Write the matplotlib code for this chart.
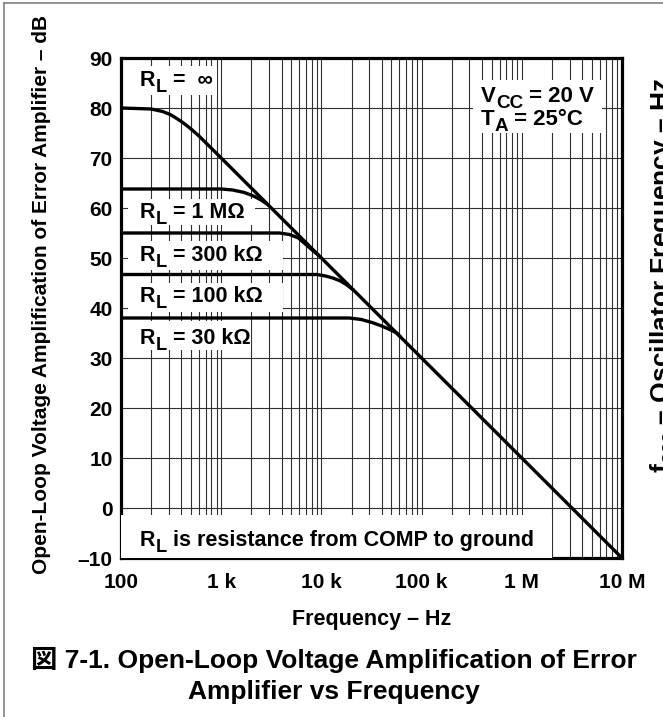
import numpy as np
import matplotlib
matplotlib.use('Agg')
import matplotlib.pyplot as plt
from matplotlib.patches import Rectangle
from matplotlib.lines import Line2D

plt.rcParams['font.family'] = ['Liberation Sans', 'Noto Sans CJK JP', 'DejaVu Sans']
plt.rcParams['font.weight'] = 'bold'
plt.rcParams['mathtext.fontset'] = 'custom'
plt.rcParams['mathtext.rm'] = 'Liberation Sans:bold'
plt.rcParams['mathtext.it'] = 'Liberation Sans:bold'
plt.rcParams['mathtext.default'] = 'rm'

# open-loop gain curves (Hz, dB)
freq_inf = [100, 200, 260, 310, 360, 420, 500, 600, 1e3, 1e4, 1e5, 1e6, 1e7]
gain_inf = [80.0, 79.8, 79.3, 78.7, 77.9, 77.0, 75.8, 74.4, 70.0, 50.0, 30.0, 10.0, -10.0]

freq_1m = [100, 1000, 1300, 1700, 2100, 2500, 3000]
gain_1m = [63.8, 63.8, 63.6, 63.1, 62.4, 61.6, 60.5]

freq_300k = [100, 3800, 4800, 5900, 7000, 8200, 9500]
gain_300k = [55.0, 55.0, 54.7, 54.0, 52.7, 51.5, 50.45]

freq_100k = [100, 9000, 11000, 13000, 15500, 18000, 21000]
gain_100k = [46.7, 46.7, 46.4, 46.0, 45.4, 44.6, 43.55]

freq_30k = [100, 19000, 25000, 32000, 40000, 48000, 56000, 62000]
gain_30k = [38.0, 38.0, 37.7, 37.1, 36.4, 35.7, 35.04, 34.15]

xticks = [1e2, 1e3, 1e4, 1e5, 1e6, 1e7]
xtick_labels = ['100', '1 k', '10 k', '100 k', '1 M', '10 M']
yticks = [-10, 0, 10, 20, 30, 40, 50, 60, 70, 80, 90]
ytick_labels = ['\u201310', '0', '10', '20', '30', '40', '50', '60', '70', '80', '90']

W, H = 663, 717
fig = plt.figure(figsize=(W / 100, H / 100), dpi=100)
L, R, T, B = 121, 622, 58, 558
ax = fig.add_axes([L / W, 1 - B / H, (R - L) / W, (B - T) / H])

def px2ax(x, y):
    return (x - L) / (R - L), (B - y) / (B - T)

ax.set_xscale('log')
ax.set_xlim(100, 1e7)
ax.set_ylim(-10, 90)
ax.set_xticks(xticks)
ax.set_xticklabels(xtick_labels)
ax.set_yticks(yticks)
ax.set_yticklabels(ytick_labels)
ax.xaxis.set_minor_locator(matplotlib.ticker.LogLocator(base=10, subs=np.arange(2, 10)))
ax.xaxis.set_minor_formatter(matplotlib.ticker.NullFormatter())
ax.tick_params(which='both', length=0, labelsize=15)
ax.tick_params(axis='x', pad=11)
ax.tick_params(axis='y', pad=6)
ax.grid(True, which='both', axis='x', color='#303030', lw=0.8)
ax.grid(True, which='major', axis='y', color='#303030', lw=0.8)
for s in ax.spines.values():
    s.set_linewidth(2.3)

curve_kw = dict(color='black', lw=2.4, solid_capstyle='butt', zorder=4)
ax.plot(freq_inf, gain_inf, **curve_kw)
ax.plot(freq_1m, gain_1m, **curve_kw)
ax.plot(freq_300k, gain_300k, **curve_kw)
ax.plot(freq_100k, gain_100k, **curve_kw)
ax.plot(freq_30k, gain_30k, **curve_kw)

# white boxes behind the labels (pixel extents)
boxes = [(130, 66, 217, 95), (128, 199, 255, 225), (128, 241, 283, 270),
         (128, 283, 283, 312), (128, 321, 251, 350), (473, 80, 602, 133),
         (121, 515, 552, 558)]
for x0, y0, x1, y1 in boxes:
    ax0, ay1 = px2ax(x0, y0)
    ax1, ay0 = px2ax(x1, y1)
    ax.add_patch(Rectangle((ax0, ay0), ax1 - ax0, ay1 - ay0, transform=ax.transAxes,
                           fc='white', ec='none', zorder=3))


def sub_label(x, y, base, sub, rest, size=15.5):
    # text with a large, dropped subscript, laid out piece by piece
    axx, axy = px2ax(x, y)
    t0 = ax.text(axx, axy, base, transform=ax.transAxes, fontsize=size,
                 fontweight='bold', ha='left', va='baseline', zorder=5)
    t1 = ax.annotate(sub, xy=(1, 0), xycoords=t0, xytext=(0, -size * 0.22),
                     textcoords='offset points', fontsize=size * 0.85,
                     fontweight='bold', ha='left', va='bottom', zorder=5)
    ax.annotate(rest, xy=(1, 0), xycoords=(t1, t0), fontsize=size,
                fontweight='bold', ha='left', va='bottom', zorder=5)


sub_label(140, 86, 'R', 'L', ' =  \u221e')
sub_label(140, 218, 'R', 'L', ' = 1 M\u03a9')
sub_label(140, 261, 'R', 'L', ' = 300 k\u03a9')
sub_label(140, 302, 'R', 'L', ' = 100 k\u03a9')
sub_label(140, 344, 'R', 'L', ' = 30 k\u03a9')
sub_label(481, 102, 'V', 'CC', ' = 20 V', size=16)
sub_label(481, 125, 'T', 'A', ' = 25\u00b0C', size=16)
sub_label(140, 546, 'R', 'L', ' is resistance from COMP to ground')

fig.text(42 / W, 1 - 294 / H, 'Open-Loop Voltage Amplification of Error Amplifier \u2013 dB',
         rotation=90, ha='center', va='center', fontsize=15, fontweight='bold')
fig.text((L + R) / 2 / W, 1 - 620 / H, 'Frequency \u2013 Hz',
         ha='center', va='center', fontsize=15.5, fontweight='bold')
fig.text(334 / W, 1 - 668 / H, '\u56f3 7-1. Open-Loop Voltage Amplification of Error',
         ha='center', va='baseline', fontsize=19, fontweight='bold')
fig.text(334 / W, 1 - 699 / H, 'Amplifier vs Frequency',
         ha='center', va='baseline', fontsize=19, fontweight='bold')

# neighbouring chart's axis label, clipped at the page edge
fig.text(648 / W, 1 - 275 / H, 'f$_{osc}$ \u2013 Oscillator Frequency \u2013 Hz',
         rotation=90, ha='left', va='center', fontsize=19, fontweight='bold')

# page frame
fig.add_artist(Line2D([3.5 / W, 3.5 / W], [0, 1 - 2.5 / H], color='#808080', lw=1.2))
fig.add_artist(Line2D([3.5 / W, 1], [1 - 2.5 / H, 1 - 2.5 / H], color='#808080', lw=1.2))

fig.savefig('out.png', dpi=100)
